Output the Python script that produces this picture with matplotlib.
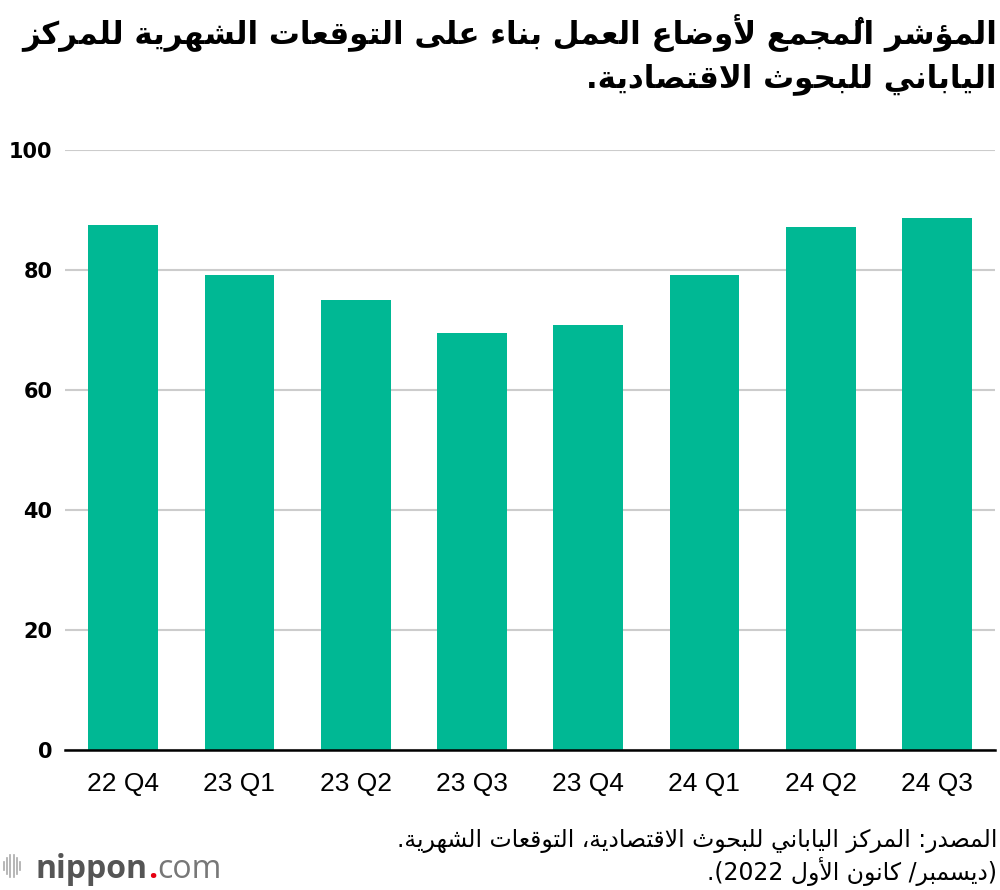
import matplotlib
matplotlib.use('Agg')
import matplotlib.pyplot as plt
from matplotlib.lines import Line2D

# data
quarters = ['22 Q4', '23 Q1', '23 Q2', '23 Q3', '23 Q4', '24 Q1', '24 Q2', '24 Q3']
index_values = [87.5, 79.2, 75.0, 69.5, 70.8, 79.2, 87.2, 88.7]
y_ticks = [0, 20, 40, 60, 80, 100]

title_lines = ['المؤشر المُجمع لأوضاع العمل بناء على التوقعات الشهرية للمركز',
               'الياباني للبحوث الاقتصادية.']
source_lines = ['المصدر: المركز الياباني للبحوث الاقتصادية، التوقعات الشهرية.',
                '(ديسمبر/ كانون الأول 2022).']

bar_color = '#00b894'

# --- minimal arabic shaping (matplotlib has no bidi / joining) ---
FORMS = {
    'ء': (0xFE80, 1), 'آ': (0xFE81, 2), 'أ': (0xFE83, 2), 'ؤ': (0xFE85, 2), 'إ': (0xFE87, 2),
    'ئ': (0xFE89, 4), 'ا': (0xFE8D, 2), 'ب': (0xFE8F, 4), 'ة': (0xFE93, 2), 'ت': (0xFE95, 4),
    'ث': (0xFE99, 4), 'ج': (0xFE9D, 4), 'ح': (0xFEA1, 4), 'خ': (0xFEA5, 4), 'د': (0xFEA9, 2),
    'ذ': (0xFEAB, 2), 'ر': (0xFEAD, 2), 'ز': (0xFEAF, 2), 'س': (0xFEB1, 4), 'ش': (0xFEB5, 4),
    'ص': (0xFEB9, 4), 'ض': (0xFEBD, 4), 'ط': (0xFEC1, 4), 'ظ': (0xFEC5, 4), 'ع': (0xFEC9, 4),
    'غ': (0xFECD, 4), 'ف': (0xFED1, 4), 'ق': (0xFED5, 4), 'ك': (0xFED9, 4), 'ل': (0xFEDD, 4),
    'م': (0xFEE1, 4), 'ن': (0xFEE5, 4), 'ه': (0xFEE9, 4), 'و': (0xFEED, 2), 'ى': (0xFEEF, 2),
    'ي': (0xFEF1, 4),
}
LAM_ALEF = {'آ': 0xFEF5, 'أ': 0xFEF7, 'إ': 0xFEF9, 'ا': 0xFEFB}
MARKS = set('\u064b\u064c\u064d\u064e\u064f\u0650\u0651\u0652')
MIRROR = {'(': ')', ')': '('}


def n_forms(key):
    if isinstance(key, tuple):
        return 2
    return FORMS.get(key, (0, 0))[1]


def shape(text):
    units = []
    for ch in text:
        if ch in MARKS and units:
            units[-1][1] += ch
        elif ch in LAM_ALEF and units and units[-1][0] == 'ل':
            units[-1][0] = ('LA', ch)
        else:
            units.append([ch, ''])
    glyphs = []
    for i, (key, marks) in enumerate(units):
        nf = n_forms(key)
        prev = i > 0 and n_forms(units[i - 1][0]) == 4 and nf >= 2
        nxt = nf == 4 and i + 1 < len(units) and n_forms(units[i + 1][0]) >= 2
        if isinstance(key, tuple):
            g = chr(LAM_ALEF[key[1]] + (1 if prev else 0))
        elif nf == 4:
            g = chr(FORMS[key][0] + [[0, 2], [1, 3]][prev][nxt])
        elif nf == 2:
            g = chr(FORMS[key][0] + (1 if prev else 0))
        elif nf == 1:
            g = chr(FORMS[key][0])
        else:
            g = key
        glyphs.append((g + marks, isinstance(key, str) and key.isascii() and key.isalnum()))
    # visual order: reverse, but keep digit runs left to right
    chunks = []
    for g, ltr in glyphs:
        if ltr and chunks and chunks[-1][1]:
            chunks[-1][0] += g
        else:
            chunks.append([g, ltr])
    return ''.join(c if l else MIRROR.get(c, c) for c, l in reversed(chunks))


fig = plt.figure(figsize=(10, 8.9), dpi=100)
ax = fig.add_axes([0.065, 0.1573, 0.93, 0.6742])

x = range(len(quarters))
ax.bar(x, index_values, width=0.6, color=bar_color, zorder=2)
ax.set_xlim(-0.5, len(quarters) - 0.5)
ax.set_ylim(0, 100)
ax.set_yticks(y_ticks)
ax.set_yticklabels([str(t) for t in y_ticks], fontsize=15, fontweight='bold',
                   family='DejaVu Sans')
ax.set_xticks(list(x))
ax.set_xticklabels(quarters, fontsize=19, family='Liberation Sans')
ax.tick_params(axis='both', length=0)
ax.tick_params(axis='y', pad=9)
ax.tick_params(axis='x', pad=16)
ax.grid(axis='y', color='#cccccc', linewidth=1.5, zorder=0)
for s in ['top', 'right', 'left']:
    ax.spines[s].set_visible(False)
ax.spines['bottom'].set_linewidth(1.8)
ax.spines['bottom'].set_zorder(3)

# title
tt1 = fig.text(0.997, 1 - 44 / 890, shape(title_lines[0]), ha='right', va='baseline',
               fontsize=24, fontweight='bold', family='DejaVu Sans')
tt2 = fig.text(0.997, 1 - 87 / 890, shape(title_lines[1]), ha='right', va='baseline',
               fontsize=24, fontweight='bold', family='DejaVu Sans')

# source
st1 = fig.text(0.997, 1 - 847 / 890, shape(source_lines[0]), ha='right', va='baseline',
               fontsize=14, family='DejaVu Sans')
st2 = fig.text(0.997, 1 - 880 / 890, shape(source_lines[1]), ha='right', va='baseline',
               fontsize=14, family='DejaVu Sans')

# nippon.com logo
for i, h in enumerate([0.4, 0.7, 1.0, 1.0, 0.7, 0.4]):
    xc = (4 + i * 3.2) / 1000
    fig.add_artist(Line2D([xc, xc], [1 - (866 - 11 * h) / 890, 1 - (866 + 11 * h) / 890],
                          color='#aaaaaa', linewidth=1.2))
t1 = fig.text(0.036, 1 - 878 / 890, 'nippon', ha='left', va='baseline', fontsize=23,
              fontweight='bold', color='#555555', family='Open Sans')
t2 = fig.text(0, 0, '.', fontsize=23, fontweight='bold', color='#e60012', family='Open Sans',
              va='baseline')
t3 = fig.text(0, 0, 'com', fontsize=23, color='#777777', family='Open Sans', va='baseline')

fig.canvas.draw()
r = fig.canvas.get_renderer()
# fit arabic lines to the widths seen in the reference (pixels)
tt1.set_fontsize(24 * 977 / tt1.get_window_extent(r).width)
tt2.set_fontsize(tt1.get_fontsize())
st1.set_fontsize(14 * 607 / st1.get_window_extent(r).width)
st2.set_fontsize(st1.get_fontsize())

bb = t1.get_window_extent(r).transformed(fig.transFigure.inverted())
t2.set_position((bb.x1, 1 - 878 / 890))
bb = t2.get_window_extent(r).transformed(fig.transFigure.inverted())
t3.set_position((bb.x1, 1 - 878 / 890))

fig.savefig('out.png', dpi=100)
